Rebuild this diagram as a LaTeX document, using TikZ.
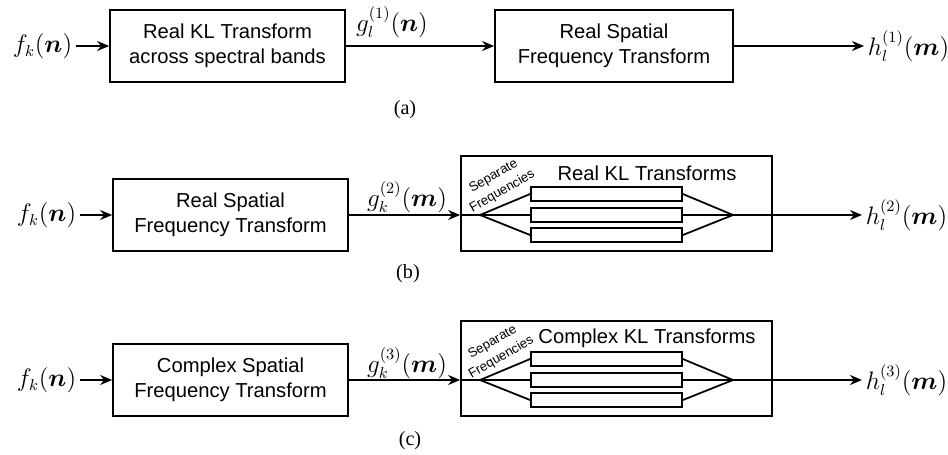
\documentclass[tikz,border=0pt]{standalone}
\usepackage{amsmath,amssymb}
\usepackage{fontspec}
\setmainfont{Liberation Serif}
\setsansfont{Liberation Sans}
\usetikzlibrary{arrows.meta,positioning}
\tikzset{
  blk/.style     ={draw, line width=1pt,
                   minimum width=4.7cm, minimum height=1.44cm,
                   align=center, font=\sffamily\fontsize{11.5}{14}\selectfont, inner sep=2pt},
  bigblk/.style  ={draw, line width=1pt,
                   minimum width=6.22cm, minimum height=1.9cm, inner sep=0pt},
  klbox/.style   ={draw, line width=1pt,
                   minimum width=3.02cm, minimum height=0.28cm, inner sep=0pt},
  sig/.style     ={font=\fontsize{13.5}{16}\selectfont, inner sep=2pt},
  sublbl/.style  ={font=\fontsize{11.5}{14}\selectfont},
  ttl/.style     ={font=\sffamily\fontsize{11.5}{14}\selectfont, inner sep=0pt},
  sepf/.style    ={font=\sffamily\fontsize{7.5}{10}\selectfont, rotate=30,
                   align=center, inner sep=0pt},
  arr/.style     ={-{Stealth[length=2.4mm,width=2mm]}, line width=1pt},
  wire/.style    ={line width=1pt},
}

\begin{document}
\begin{tikzpicture}[x=0.02cm,y=-0.02cm]
    \useasboundingbox (0,0) rectangle (948,454);

    % (a) KL across bands, then spatial frequency transform
    \node[sig,anchor=east] (fa) at (76,46) {$f_k(\boldsymbol{n})$};
    \node[blk] (kla) at (227.5,46) {Real KL Transform\\across spectral bands};
    \node[blk,minimum width=4.76cm] (sfa) at (614,46) {Real Spatial\\Frequency Transform};
    \node[sig,anchor=west] (ha) at (864,46) {$h_l^{(1)}(\boldsymbol{m})$};
    \node[sig] (ga) at (392,22) {$g_l^{(1)}(\boldsymbol{n})$};
    \node[sublbl] (capa) at (405,110) {(a)};
    \draw[arr] (fa) -- (kla);
    \draw[arr] (kla) -- (sfa);
    \draw[arr] (sfa) -- (ha);

    % (b) real spatial transform, then real KL per frequency
    \node[sig,anchor=east] (fb) at (80,215) {$f_k(\boldsymbol{n})$};
    \node[blk] (sfb) at (230.5,215) {Real Spatial\\Frequency Transform};
    \node[bigblk] (klb) at (616.5,203.5) {};
    \node[ttl] (ttlb) at (647,173) {Real KL Transforms};
    \node[sepf] (sepb) at (498,184) {Separate\\Frequencies};
    \node[sig,anchor=west] (hb) at (862,215) {$h_l^{(2)}(\boldsymbol{m})$};
    \node[sig] (gb) at (407,197) {$g_k^{(2)}(\boldsymbol{m})$};
    \node[sublbl] (capb) at (408,274) {(b)};
    \coordinate (splb) at (480,215);
    \coordinate (mrgb) at (733,215);
    \foreach \i/\y in {1/194,2/215,3/235}{
      \node[klbox] (kb\i) at (606.5,\y) {};
      \draw[wire] (splb) -- (kb\i.west);
      \draw[wire] (kb\i.east) -- (mrgb);
    }
    \draw[arr] (fb) -- (sfb);
    \draw[arr] (sfb.east) -- (sfb.east -| klb.west);
    \draw[wire] (sfb.east -| klb.west) -- (splb);
    \draw[arr] (mrgb) -- (hb);

    % (c) complex spatial transform, then complex KL per frequency
    \node[sig,anchor=east] (fc) at (80,380) {$f_k(\boldsymbol{n})$};
    \node[blk] (sfc) at (230.5,380) {Complex Spatial\\Frequency Transform};
    \node[bigblk] (klc) at (616.5,368.5) {};
    \node[ttl] (ttlc) at (647,338) {Complex KL Transforms};
    \node[sepf] (sepc) at (497,350) {Separate\\Frequencies};
    \node[sig,anchor=west] (hc) at (862,380) {$h_l^{(3)}(\boldsymbol{m})$};
    \node[sig] (gc) at (407,363) {$g_k^{(3)}(\boldsymbol{m})$};
    \node[sublbl] (capc) at (410,441) {(c)};
    \coordinate (splc) at (480,380);
    \coordinate (mrgc) at (733,380);
    \foreach \i/\y in {1/359,2/380,3/400}{
      \node[klbox] (kc\i) at (606.5,\y) {};
      \draw[wire] (splc) -- (kc\i.west);
      \draw[wire] (kc\i.east) -- (mrgc);
    }
    \draw[arr] (fc) -- (sfc);
    \draw[arr] (sfc.east) -- (sfc.east -| klc.west);
    \draw[wire] (sfc.east -| klc.west) -- (splc);
    \draw[arr] (mrgc) -- (hc);
\end{tikzpicture}
\end{document}
